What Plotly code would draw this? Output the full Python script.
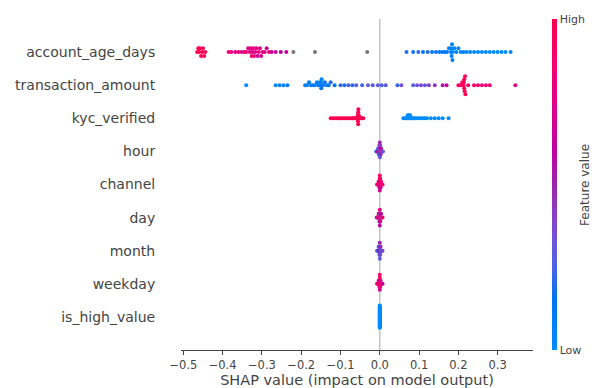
import numpy as np
import plotly.graph_objects as go

# ---------------- data ----------------
features = ["account_age_days", "transaction_amount", "kyc_verified", "hour",
            "channel", "day", "month", "weekday", "is_high_value"]   # top -> bottom

age_shap = [-0.465, -0.462, -0.46, -0.458, -0.455, -0.452, -0.45, -0.447, -0.444,
            -0.385, -0.378, -0.368, -0.36, -0.352, -0.345, -0.34, -0.335, -0.331, -0.328,
            -0.326, -0.324, -0.322, -0.32, -0.317, -0.314, -0.311, -0.308, -0.305, -0.302,
            -0.298, -0.293, -0.288, -0.282, -0.275, -0.265, -0.252, -0.238,
            0.068, 0.085, 0.098, 0.11, 0.122, 0.133, 0.143, 0.152, 0.16, 0.166, 0.171,
            0.176, 0.181, 0.182, 0.183, 0.184, 0.185, 0.186, 0.19, 0.195, 0.2, 0.206,
            0.213, 0.221, 0.23, 0.24, 0.25, 0.26, 0.27, 0.28, 0.29, 0.3, 0.31, 0.32, 0.333]
age_fv = [0.98, 1.0, 0.97, 0.99, 0.96, 1.0, 0.98, 0.95, 0.99,
          0.85, 0.8, 0.75, 0.82, 0.7, 0.78, 0.88, 0.72, 0.8, 0.76, 0.84, 0.7, 0.79, 0.86,
          0.74, 0.8, 0.68, 0.83, 0.77, 0.71, 0.8, 0.75, 0.66, 0.82, 0.7, 0.64, 0.6, 0.62,
          0.2, 0.18, 0.22, 0.15, 0.2, 0.12, 0.18, 0.1, 0.15, 0.08, 0.12, 0.06, 0.1, 0.05,
          0.08, 0.04, 0.07, 0.03, 0.06, 0.05, 0.04, 0.03, 0.05, 0.02, 0.04, 0.02, 0.03,
          0.01, 0.02, 0.01, 0.02, 0.0, 0.01, 0.0, 0.0]
age_nan_shap = [-0.22, -0.165, -0.032]

amount_shap = [-0.34,
               -0.265, -0.255, -0.245, -0.235,
               -0.19, -0.185, -0.18, -0.175, -0.17, -0.165, -0.16, -0.156, -0.152, -0.151,
               -0.15, -0.149, -0.148, -0.144, -0.14, -0.135, -0.13, -0.125,
               -0.115, -0.1, -0.09, -0.08, -0.07, -0.06, -0.045, -0.03, -0.018, -0.005,
               0.005, 0.015, 0.045, 0.055, 0.085, 0.095, 0.105, 0.115, 0.125, 0.14, 0.16, 0.17,
               0.2, 0.205, 0.21, 0.213, 0.214, 0.215, 0.215, 0.216, 0.217, 0.218, 0.225,
               0.24, 0.25, 0.26, 0.27, 0.28,
               0.345]
amount_fv = [0.02,
             0.05, 0.08, 0.04, 0.1,
             0.1, 0.05, 0.12, 0.08, 0.15, 0.06, 0.1, 0.14, 0.07, 0.12, 0.09, 0.16, 0.05,
             0.11, 0.18, 0.08, 0.13, 0.2,
             0.15, 0.22, 0.18, 0.25, 0.2, 0.28, 0.24, 0.3, 0.26, 0.32,
             0.25, 0.3, 0.22, 0.35, 0.28, 0.32, 0.38, 0.3, 0.42, 0.45, 0.55, 0.6,
             0.92, 0.95, 0.9, 0.97, 0.93, 1.0, 0.96, 0.98, 0.94, 0.99, 0.9,
             0.85, 0.88, 0.8, 0.9, 0.82,
             0.75]

kyc_shap = [-0.125, -0.12, -0.115, -0.11, -0.105, -0.1, -0.095, -0.09, -0.085, -0.08,
            -0.075, -0.07, -0.067, -0.064, -0.061, -0.059,
            -0.0565, -0.056, -0.0555, -0.055, -0.055, -0.0545, -0.054, -0.0535,
            -0.051, -0.048, -0.045, -0.042,
            0.06, 0.064, 0.067, 0.069, 0.071, 0.072, 0.074, 0.075, 0.077, 0.079, 0.081,
            0.084, 0.087, 0.09, 0.095, 0.1, 0.105, 0.11, 0.115, 0.12, 0.13, 0.14, 0.15,
            0.16, 0.175]
kyc_fv = [1.0] * 28 + [0.0] * 25

hour_shap = [-0.009, -0.007, -0.006, -0.005, -0.004, -0.004, -0.003, -0.003, -0.002,
             -0.002, -0.002, -0.001, -0.001, -0.001, -0.001, 0.0, 0.0, 0.0, 0.0, 0.0,
             0.0, 0.001, 0.001, 0.001, 0.001, 0.002, 0.002, 0.002, 0.003, 0.003, 0.004,
             0.005, 0.006, 0.008]
hour_fv = [0.2, 0.7, 0.4, 0.2, 0.6, 0.3, 0.5, 0.1, 0.8, 0.4, 0.2, 0.6, 0.1, 0.5, 0.3,
           0.7, 0.4, 0.2, 0.8, 0.3, 0.5, 0.3, 0.6, 0.1, 0.4, 0.7, 0.2, 0.5, 0.3, 0.6,
           0.2, 0.4, 0.8, 0.3]

channel_shap = [-0.007, -0.005, -0.004, -0.003, -0.003, -0.002, -0.002, -0.001, -0.001,
                -0.001, 0.0, 0.0, 0.0, 0.0, 0.0, 0.0, 0.001, 0.001, 0.001, 0.001, 0.002,
                0.002, 0.002, 0.003, 0.003, 0.004, 0.005, 0.007]
channel_fv = [0.9, 0.6, 1.0, 0.7, 0.95, 0.5, 0.85, 1.0, 0.65, 0.9, 0.8, 1.0, 0.55, 0.95,
              0.7, 0.9, 1.0, 0.6, 0.85, 0.95, 0.75, 1.0, 0.6, 0.9, 0.8, 0.95, 0.7, 0.9]

day_shap = [-0.008, -0.006, -0.005, -0.004, -0.003, -0.003, -0.002, -0.002, -0.001,
            -0.001, -0.001, 0.0, 0.0, 0.0, 0.0, 0.0, 0.001, 0.001, 0.001, 0.002, 0.002,
            0.003, 0.003, 0.004, 0.005, 0.007]
day_fv = [0.8, 0.4, 0.9, 0.5, 0.7, 1.0, 0.3, 0.8, 0.6, 0.9, 0.4, 0.7, 1.0, 0.5, 0.8,
          0.6, 0.9, 0.3, 0.7, 0.85, 0.5, 0.95, 0.6, 0.8, 0.4, 0.9]

month_shap = [-0.007, -0.005, -0.004, -0.003, -0.003, -0.002, -0.002, -0.001, -0.001,
              -0.001, 0.0, 0.0, 0.0, 0.0, 0.0, 0.001, 0.001, 0.001, 0.002, 0.002, 0.003,
              0.004, 0.005, 0.007]
month_fv = [0.2, 0.5, 0.1, 0.4, 0.3, 0.6, 0.2, 0.5, 0.3, 0.1, 0.4, 0.6, 0.2, 0.5, 0.3,
            0.7, 0.2, 0.4, 0.1, 0.5, 0.3, 0.6, 0.2, 0.4]

weekday_shap = [-0.007, -0.005, -0.004, -0.003, -0.003, -0.002, -0.002, -0.001, -0.001,
                -0.001, 0.0, 0.0, 0.0, 0.0, 0.0, 0.0, 0.001, 0.001, 0.001, 0.002, 0.002,
                0.003, 0.004, 0.005, 0.007]
weekday_fv = [0.9, 0.6, 1.0, 0.75, 0.95, 0.55, 0.85, 1.0, 0.7, 0.9, 0.8, 1.0, 0.6, 0.95,
              0.75, 0.9, 1.0, 0.65, 0.85, 0.95, 0.7, 1.0, 0.8, 0.9, 0.6]

high_value_shap = [0.0] * 40
high_value_fv = [0.0] * 40

x_ticks = [-0.5, -0.4, -0.3, -0.2, -0.1, 0.0, 0.1, 0.2, 0.3]
x_tick_text = ["\u22120.5", "\u22120.4", "\u22120.3", "\u22120.2", "\u22120.1",
               "0.0", "0.1", "0.2", "0.3"]

rows = [
    (age_shap, age_fv, age_nan_shap),
    (amount_shap, amount_fv, []),
    (kyc_shap, kyc_fv, []),
    (hour_shap, hour_fv, []),
    (channel_shap, channel_fv, []),
    (day_shap, day_fv, []),
    (month_shap, month_fv, []),
    (weekday_shap, weekday_fv, []),
    (high_value_shap, high_value_fv, []),
]

# ---------------- SHAP red_blue colormap (LCH interpolation) ----------------
def lch_to_rgb(L, C, h):
    a, b = C * np.cos(h), C * np.sin(h)
    fy = (L + 16) / 116.0
    fx, fz = fy + a / 500.0, fy - b / 200.0
    def finv(t):
        return t ** 3 if t ** 3 > 0.008856 else (t - 16 / 116.0) / 7.787
    X, Y, Z = 0.95047 * finv(fx), 1.0 * finv(fy), 1.08883 * finv(fz)
    M = np.array([[3.2404542, -1.5371385, -0.4985314],
                  [-0.9692660, 1.8760108, 0.0415560],
                  [0.0556434, -0.2040259, 1.0572252]])
    rgb = M @ np.array([X, Y, Z])
    out = []
    for c in rgb:
        c = 1.055 * c ** (1 / 2.4) - 0.055 if c > 0.0031308 else 12.92 * c
        out.append(int(round(255 * min(max(c, 0), 1))))
    return "rgb(%d,%d,%d)" % tuple(out)

blue_lch = [54.0, 70.0, 4.6588]
red_lch = [54.0, 90.0, 0.35470565 + 2 * np.pi]
l_mid = 40.0
nst = 21
colorscale = []
for i in range(nst):
    t = i / (nst - 1)
    L = blue_lch[0] + (l_mid - blue_lch[0]) * (t / 0.5) if t <= 0.5 else l_mid + (red_lch[0] - l_mid) * ((t - 0.5) / 0.5)
    C = blue_lch[1] + (red_lch[1] - blue_lch[1]) * t
    h = blue_lch[2] + (red_lch[2] - blue_lch[2]) * t
    colorscale.append([t, lch_to_rgb(L, C, h)])

# ---------------- beeswarm layout (as in shap) ----------------
def swarm(shaps, row_height=0.4, nbins=100):
    shaps = np.asarray(shaps, dtype=float)
    rng = shaps.max() - shaps.min()
    quant = np.round(nbins * (shaps - shaps.min()) / (rng + 1e-8))
    inds = np.argsort(quant, kind="stable")
    ys = np.zeros(len(shaps))
    layer, last = 0, None
    for ind in inds:
        if quant[ind] != last:
            layer = 0
        ys[ind] = np.ceil(layer / 2) * ((layer % 2) * 2 - 1)
        layer += 1
        last = quant[ind]
    ys *= 0.9 * (row_height / np.max(ys + 1))
    return ys

fig = go.Figure()
n = len(features)
fig.add_shape(type="line", x0=0, x1=0, y0=0, y1=1, xref="x", yref="paper",
              line=dict(color="#c4c4c4", width=1.5), layer="below")

for i, (s, fv, nan_s) in enumerate(rows):
    pos = n - 1 - i
    all_s = list(s) + list(nan_s)
    ys = swarm(all_s)
    ns = len(s)
    if nan_s:
        fig.add_trace(go.Scatter(x=nan_s, y=pos + ys[ns:], mode="markers",
                                 marker=dict(size=4, color="#777777", line=dict(width=0)),
                                 showlegend=False, hoverinfo="skip"))
    fig.add_trace(go.Scatter(x=s, y=pos + ys[:ns], mode="markers",
                             marker=dict(size=4, color=fv, coloraxis="coloraxis",
                                         line=dict(width=0)),
                             showlegend=False, hoverinfo="skip"))

font_family = "DejaVu Sans"
axis_color = "#444444"
# the page body has an 8px margin, so the figure is 8px smaller and margins shifted
fig.update_layout(
    template="none",
    width=593, height=380,
    margin=dict(l=173, r=68, t=11, b=38, autoexpand=False),
    paper_bgcolor="white", plot_bgcolor="white",
    font=dict(family=font_family, color=axis_color),
    coloraxis=dict(
        colorscale=colorscale, cmin=0, cmax=1,
        colorbar=dict(
            x=1.054, xanchor="left", xpad=0, y=0.5, yanchor="middle", ypad=0,
            len=1, lenmode="fraction", thickness=5, outlinewidth=0,
            tickvals=[0, 1], ticktext=["Low", "High"], ticks="",
            tickfont=dict(size=11, color=axis_color, family=font_family),
        ),
    ),
    annotations=[dict(text="Feature value", textangle=-90, x=1.146, y=0.5,
                      xref="paper", yref="paper", xanchor="center", yanchor="middle",
                      showarrow=False,
                      font=dict(size=12, color=axis_color, family=font_family))],
)
fig.update_xaxes(range=[-0.506, 0.39], tickvals=x_ticks, ticktext=x_tick_text,
                 automargin=False,
                 showgrid=False, zeroline=False, showline=True, linecolor=axis_color,
                 linewidth=1, ticks="outside", ticklen=4, tickcolor=axis_color,
                 tickfont=dict(size=11.5, color=axis_color),
                 title=dict(text="SHAP value (impact on model output)",
                            font=dict(size=14.5, color=axis_color), standoff=6))
fig.update_yaxes(range=[-1, n], tickvals=list(range(n)), ticktext=features[::-1],
                 automargin=False,
                 showgrid=False, zeroline=False, showline=False, ticks="outside",
                 ticklen=22, tickcolor="rgba(0,0,0,0)",
                 tickfont=dict(size=14, color=axis_color))

fig.write_html("out.html")
